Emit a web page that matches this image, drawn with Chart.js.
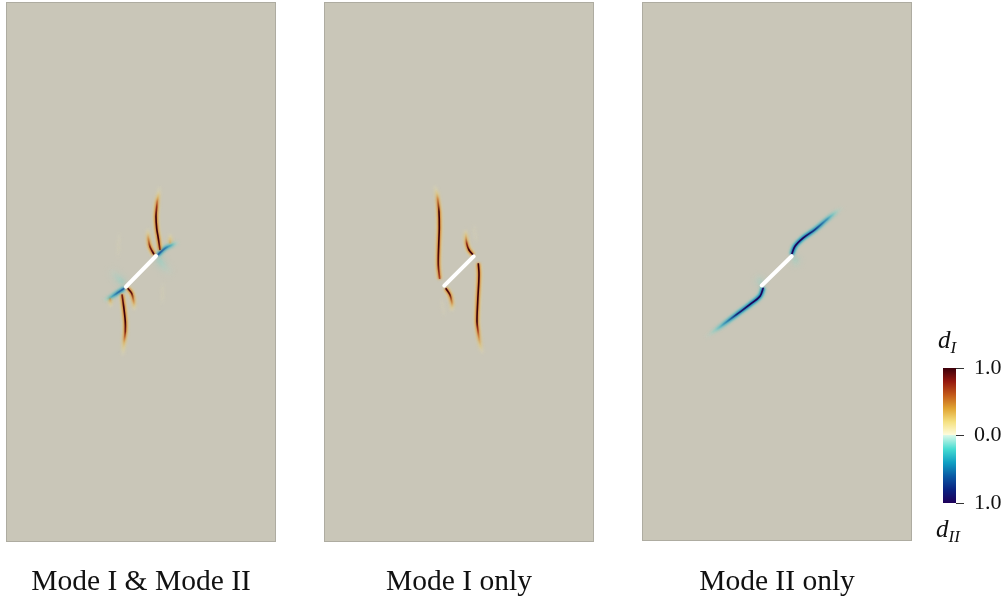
<!DOCTYPE html>
<html>
<head>
<meta charset="utf-8">
<script src="https://cdn.jsdelivr.net/npm/chart.js@4/dist/chart.umd.min.js"></script>
<style>
  body { margin: 0; background: #fff; width: 1006px; height: 600px; overflow: hidden; position: relative; }
  canvas { position: absolute; }
  .lab { position: absolute; font: italic 25px "Liberation Serif", serif; color: #111; line-height: 25px; }
  .lab sub { font-size: 17px; vertical-align: -5px; line-height: 0; }
</style>
</head>
<body>
<canvas id="p1" width="282" height="600" style="left:0;top:0"></canvas>
<canvas id="p2" width="282" height="600" style="left:318px;top:0"></canvas>
<canvas id="p3" width="282" height="600" style="left:636px;top:0"></canvas>
<canvas id="cbar" width="73" height="200" style="left:933px;top:340px"></canvas>
<div class="lab" style="left:938px;top:327px"><i>d<sub>I</sub></i></div>
<div class="lab" style="left:936px;top:516px"><i>d<sub>II</sub></i></div>
<script>
// domain is 270 x 540 mesh units, y measured from the top. each point is [x, y, damage]
const captions = ['Mode I & Mode II', 'Mode I only', 'Mode II only'];

// left panel
const p1Slit = [[120, 284.7], [150, 254]];
const p1UpperLong = [[153.3, 183, .03], [153, 189, .15], [152, 194.7, .4], [151.2, 199.5, .65], [150.7, 204.7, .85], [150, 214.7, 1], [150.7, 226.3, 1], [152.3, 236.3, 1], [154, 248, .9]];
const p1UpperShort = [[141.8, 226, .05], [142, 231, .25], [142.3, 236.3, .55], [144, 244.7, .9], [148, 252.3, 1]];
const p1UpperTick = [[164.4, 231, .04], [164.3, 235.5, .25], [164, 241.3, .5]];
const p1LowerLong = [[116, 292.3, .9], [117.7, 304.7, 1], [119.3, 319.7, 1], [119.3, 329.7, .9], [118.6, 336, .65], [118, 341.3, .4], [117.4, 348, .2], [116.7, 354.7, .03]];
const p1LowerShort = [[121.7, 286.3, 1], [125.7, 291.3, .95], [127.7, 299.7, .55], [128.1, 304, .3], [128.3, 309, .05]];
const p1LowerTick = [[104, 296.3, .6], [104.6, 301, .3], [105, 306, .04]];
const p1FaintA = [[113.3, 229, .02], [113, 238, .08], [112.4, 248, .08], [112, 258, .02]];
const p1FaintB = [[156.9, 279, .02], [156.7, 287, .08], [156.4, 296, .08], [156.2, 304, .02]];
const p1ShearUp = [[151.7, 253, .75], [159, 246.3, .65], [165.7, 243, .4], [170, 241, .15], [174, 239, .02]];
const p1ShearDown = [[118.3, 286.3, .75], [110.7, 291.3, .65], [104, 295.7, .4], [100, 297.5, .15], [96.7, 299, .02]];
const p1HaloA = [[152.3, 256.3, .22], [159, 266, .12], [167.3, 273, .02]];
const p1HaloB = [[117.3, 281.3, .22], [110, 274, .12], [102.3, 267.3, .02]];

// middle panel
const p2Slit = [[120.3, 283.7], [149.7, 254.3]];
const p2LeftLong = [[110.5, 182, .03], [111.7, 187, .15], [113, 192, .35], [113.7, 197, .6], [115, 209.7, 1], [115.3, 226.3, 1], [114.7, 243, 1], [114.3, 263, .95], [115.7, 277, .8]];
const p2UpperShort = [[141.5, 227, .05], [141.7, 232, .3], [142.7, 241.3, .85], [145, 248, 1], [149.3, 253, 1]];
const p2FaintA = [[150, 221, .02], [150.6, 228, .08], [151.4, 236, .08], [152, 242, .02]];
const p2RightLong = [[154.3, 261.3, 1], [155, 273, 1], [153.7, 299.7, 1], [153, 319.7, 1], [154, 329, .8], [155, 336.3, .55], [156.5, 344, .3], [158.7, 352, .05]];
const p2LowerShort = [[121.7, 286.3, 1], [126, 293, .95], [128, 301.3, .55], [128.1, 305, .3], [128, 310, .05]];
const p2FaintB = [[117.4, 295, .02], [118, 301, .08], [119.4, 309, .08], [120.4, 316, .02]];

// right panel
const p3Slit = [[119.7, 284], [149.7, 254.7]];
const p3ShearUp = [[149.7, 253, 1], [153, 244.7, 1], [161.3, 236.3, 1], [173, 228, .85], [184.7, 218, .55], [189, 214.5, .38], [193, 211.3, .22], [197.5, 208, .1], [202, 205, .02]];
const p3ShearDown = [[121.3, 286.3, 1], [118, 294.7, 1], [108, 303, 1], [94.7, 313, .9], [81.3, 323, .5], [76, 327, .32], [71.3, 330.3, .18], [66.5, 333.8, .08], [62, 337, .02]];
const p3HaloA = [[114.7, 273, .03], [117, 278, .12], [119.7, 283, .22]];
const p3HaloB = [[153, 256.3, .22], [154, 261.5, .12], [154.7, 266.3, .03]];

const panelSlits = [p1Slit, p2Slit, p3Slit];
const panelModeI = [
  [p1UpperLong, p1UpperShort, p1UpperTick, p1LowerLong, p1LowerShort, p1LowerTick],
  [p2LeftLong, p2UpperShort, p2RightLong, p2LowerShort],
  []
];
const panelModeII = [
  [p1ShearUp, p1ShearDown],
  [],
  [p3ShearUp, p3ShearDown]
];
const panelFaintI = [[p1FaintA, p1FaintB], [p2FaintA, p2FaintB], []];
const panelFaintII = [[p1HaloA, p1HaloB], [], [p3HaloA, p3HaloB]];
const panelBottomPad = [0, 0, 1];

// colour map, damage 0 -> 1
const modeIStops = [[0, 255, 253, 225], [.2, 245, 225, 130], [.4, 225, 165, 50], [.6, 195, 90, 25], [.8, 150, 25, 15], [1, 60, 0, 10]];
const modeIIStops = [[0, 215, 248, 232], [.2, 70, 220, 210], [.4, 15, 160, 195], [.6, 10, 90, 165], [.8, 10, 35, 130], [1, 30, 0, 90]];
const cbarTicks = [-1, 0, 1];
const cbarRange = [-1, 1];

const bgColor = '#c9c6b8';
const borderColor = '#aeaca1';
const serif = '"Liberation Serif", serif';

const cmap = (stops, t) => {
  for (let i = 1; i < stops.length; i++) {
    if (t <= stops[i][0]) {
      const a = stops[i - 1], b = stops[i], f = (t - a[0]) / (b[0] - a[0]);
      return [1, 2, 3].map(k => Math.round(a[k] + (b[k] - a[k]) * f));
    }
  }
  return stops[stops.length - 1].slice(1);
};

// three strokes per crack: wide pale halo, orange/teal body, dark core
const layers = [
  { width: 5, blur: 1.6, order: 3, tone: d => Math.min(d, .25), alpha: d => Math.min(1, d * .9) },
  { width: 2.6, blur: 0.8, order: 2, tone: d => Math.min(d, .6), alpha: d => Math.pow(d, 1.2) },
  { width: 1.6, blur: 0.5, order: 1, tone: d => d, alpha: d => d * d }
];

// one stroke per layer, coloured by a gradient running along the crack
const crackColor = (crack, stops, l) => ctx => {
  if (!ctx.chart.chartArea) return 'rgba(0,0,0,0)';
  const { x, y } = ctx.chart.scales;
  const first = crack[0], last = crack[crack.length - 1];
  const ax = x.getPixelForValue(first[0]), ay = y.getPixelForValue(first[1]);
  const bx = x.getPixelForValue(last[0]), by = y.getPixelForValue(last[1]);
  const g = ctx.chart.ctx.createLinearGradient(ax, ay, bx, by);
  const len2 = (bx - ax) ** 2 + (by - ay) ** 2;
  crack.forEach(p => {
    const px = x.getPixelForValue(p[0]), py = y.getPixelForValue(p[1]);
    const f = Math.max(0, Math.min(1, ((px - ax) * (bx - ax) + (py - ay) * (by - ay)) / len2));
    const c = cmap(stops, l.tone(p[2]));
    g.addColorStop(f, `rgba(${c[0]},${c[1]},${c[2]},${l.alpha(p[2])})`);
  });
  return g;
};

const crackDatasets = (crack, stops, spread) => layers.map(l => ({
  data: crack.map(p => ({ x: p[0], y: p[1] })),
  borderColor: crackColor(crack, stops, l),
  borderWidth: l.width * spread,
  blur: l.blur * spread,
  order: l.order,
  tension: 0.35,
  pointRadius: 0
}));

const panelBackground = {
  id: 'panelBackground',
  beforeDatasetsDraw(chart) {
    const { ctx, chartArea: a } = chart;
    ctx.save();
    ctx.fillStyle = bgColor;
    ctx.fillRect(a.left, a.top, a.width, a.height);
    ctx.strokeStyle = borderColor;
    ctx.lineWidth = 1;
    ctx.strokeRect(a.left + .5, a.top + .5, a.width - 1, a.height - 1);
    ctx.restore();
  }
};

const softStroke = {
  id: 'softStroke',
  beforeDatasetDraw(chart, args) {
    const blur = chart.data.datasets[args.index].blur;
    if (blur) chart.ctx.filter = `blur(${blur}px)`;
  },
  afterDatasetDraw(chart) {
    chart.ctx.filter = 'none';
  }
};

['p1', 'p2', 'p3'].forEach((id, i) => {
  const datasets = [];
  panelFaintI[i].forEach(c => datasets.push(...crackDatasets(c, modeIStops, 1)));
  panelFaintII[i].forEach(c => datasets.push(...crackDatasets(c, modeIIStops, 2)));
  panelModeI[i].forEach(c => datasets.push(...crackDatasets(c, modeIStops, 1)));
  panelModeII[i].forEach(c => datasets.push(...crackDatasets(c, modeIIStops, 1)));
  datasets.push({
    data: panelSlits[i].map(p => ({ x: p[0], y: p[1] })),
    borderColor: '#fff',
    borderWidth: 4,
    borderCapStyle: 'round',
    pointRadius: 0,
    order: 0
  });

  new Chart(document.getElementById(id), {
    type: 'line',
    data: { datasets },
    plugins: [panelBackground, softStroke],
    options: {
      responsive: false,
      animation: false,
      layout: { padding: { left: 6, right: 6, top: 2 } },
      scales: {
        x: { type: 'linear', min: 0, max: 270, display: false },
        y: { type: 'linear', min: 0, max: 540, reverse: true, display: false }
      },
      plugins: {
        legend: { display: false },
        tooltip: { enabled: false },
        title: {
          display: true,
          position: 'bottom',
          text: captions[i],
          color: '#111',
          font: { family: serif, size: 29.5, weight: 'normal', lineHeight: 1 },
          padding: { top: 25.5 + panelBottomPad[i], bottom: 3 }
        }
      }
    }
  });
});

new Chart(document.getElementById('cbar'), {
  type: 'bar',
  data: {
    labels: ['d'],
    datasets: [{
      data: [cbarRange],
      barPercentage: 1,
      categoryPercentage: 1,
      backgroundColor: ctx => {
        const a = ctx.chart.chartArea;
        if (!a) return '#000';
        const g = ctx.chart.ctx.createLinearGradient(0, a.top, 0, a.bottom);
        [...modeIStops].reverse().forEach(s => g.addColorStop((1 - s[0]) / 2, `rgb(${s[1]},${s[2]},${s[3]})`));
        modeIIStops.forEach(s => g.addColorStop((1 + s[0]) / 2, `rgb(${s[1]},${s[2]},${s[3]})`));
        return g;
      }
    }]
  },
  options: {
    responsive: false,
    animation: false,
    layout: { padding: { left: 10, top: 28, bottom: 37 } },
    scales: {
      x: { display: false },
      y: {
        position: 'right',
        min: cbarRange[0],
        max: cbarRange[1],
        afterBuildTicks: s => { s.ticks = cbarTicks.map(v => ({ value: v })); },
        afterFit: s => { s.width = 50; },
        border: { display: false },
        grid: { drawOnChartArea: false, tickLength: 8, color: '#333' },
        ticks: {
          color: '#111',
          padding: 10,
          font: { family: serif, size: 22 },
          callback: v => Math.abs(v).toFixed(1)
        }
      }
    },
    plugins: { legend: { display: false }, tooltip: { enabled: false } }
  }
});
</script>
</body>
</html>
